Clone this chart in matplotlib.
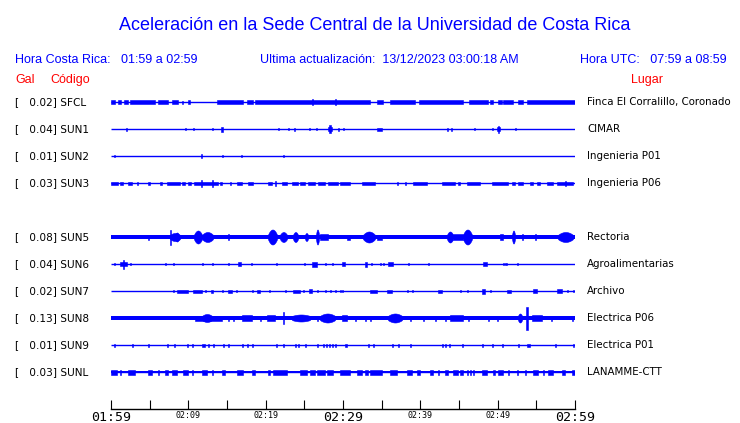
import matplotlib
matplotlib.use("Agg")
import matplotlib.pyplot as plt
import matplotlib.transforms as mtransforms
import numpy as np

# ---------------- data ----------------
start_clock = (1, 59)          # Hora Costa Rica start (hh, mm)
window_min = 60
codes = ['SFCL', 'SUN1', 'SUN2', 'SUN3', 'SUN5', 'SUN6', 'SUN7', 'SUN8', 'SUN9', 'SUNL']
gal = [0.02, 0.04, 0.01, 0.03, 0.08, 0.04, 0.02, 0.13, 0.01, 0.03]
places = ['Finca El Corralillo, Coronado', 'CIMAR', 'Ingenieria P01', 'Ingenieria P06',
          'Rectoria', 'Agroalimentarias', 'Archivo', 'Electrica P06', 'Electrica P01',
          'LANAMME-CTT']
slots = [0, 1, 2, 3, 5, 6, 7, 8, 9, 10]
# continuous background noise half-amplitude (px-like units) per station
base_noise = [0, 0, 0, 0, 2.0, 0, 0, 1.7, 0, 1.1]

# bursts: (t_start_min, t_end_min, half_amp) or spikes: (t_min, half_amp)
sfcl = [(0, 0.52, 2), (0.91, 1.29, 2), (1.68, 2.2, 2), (2.46, 5.69, 2), (6.08, 7.37, 2),
        (7.89, 8.66, 2), (9.18, 9.31, 1.5), (9.96, 10.22, 2), (13.71, 17.07, 2),
        (17.59, 18.36, 2), (18.62, 33.49, 2), (34.4, 35.17, 2), (36.08, 39.31, 2),
        (39.83, 45.52, 2), (46.3, 48.75, 2), (49.0, 49.4, 2), (50.0, 50.56, 2),
        (50.69, 51.99, 2), (52.63, 53.28, 2), (53.79, 60, 2), (25.95, 3), (28.97, 3)]
sun1 = [(1.94, 1.5), (9.57, 1), (10.6, 1), (13.06, 1), (14.22, 14.48, 2.5), (21.6, 1),
        (22.89, 1), (23.6, 23.85, 1.5), (25.6, 1), (26.51, 1), (28.1, 28.6, 2),
        (28.25, 4), (29.35, 1.5), (30.0, 1), (34.4, 35.04, 1.5), (43.45, 1.5),
        (43.97, 1.5), (46.94, 1), (49.27, 1), (49.92, 50.3, 2), (50.05, 3.5), (52.24, 1)]
sun2 = [(0.39, 1), (11.64, 2), (14.35, 1), (16.81, 1), (22.24, 1)]
sun3 = [(0, 0.91, 1.5), (1.16, 1.55, 1.5), (2.2, 2.72, 1.5), (3.36, 3.49, 1.5),
        (4.78, 5.04, 1.5), (6.34, 6.6, 1.5), (7.24, 8.92, 1.5), (9.18, 9.57, 1.5),
        (9.96, 10.35, 1.5), (10.73, 13.84, 1.5), (11.64, 3.5), (13.06, 3.5),
        (14.1, 14.35, 1.5), (15.39, 1.5), (16.29, 16.94, 1.5), (17.72, 18.36, 1.5),
        (20.3, 20.82, 1.5), (21.21, 2.5), (22.11, 22.76, 1.5), (23.41, 24.2, 1.5),
        (24.5, 25.09, 1.5), (25.47, 26.4, 1.5), (26.8, 27.67, 1.5), (28.06, 29.3, 1.5),
        (29.6, 30.91, 1.5), (32.46, 34.14, 1.5), (36.98, 1.5), (38.02, 1.5),
        (39.05, 40.86, 1.5), (42.8, 44.48, 1.5), (44.87, 45.13, 1.5), (46.04, 47.72, 1.5),
        (49.27, 51.34, 1.5), (51.86, 52.24, 1.5), (52.63, 53.28, 1.5), (54.18, 54.57, 1.5),
        (55.09, 55.48, 1.5), (56.38, 57.16, 1.5), (57.67, 59.74, 1.5), (58.71, 2.5)]
sun5 = [(4.78, 2.5), (7.63, 8.92, 4), (8.28, 8.79, 4.5), (7.63, 7.5), (10.73, 11.77, 6.5),
        (11.77, 13.19, 5), (15.13, 3), (20.3, 21.47, 7.5), (21.85, 22.76, 5),
        (23.54, 24.18, 5), (25.09, 25.47, 4), (26.51, 26.9, 7.5), (27.03, 28.06, 3),
        (30.52, 30.91, 2.5), (32.59, 34.14, 5.5), (34.4, 35.04, 2.5), (43.45, 44.23, 5.5),
        (44.23, 45.52, 3), (45.52, 46.68, 7.5), (50.3, 50.69, 3), (51.86, 52.24, 6.5),
        (53.15, 3), (54.83, 3), (57.8, 59.74, 5)]
sun6 = [(0.39, 1), (1.16, 2.07, 2), (1.55, 4.5), (2.46, 1), (6.98, 1), (8.02, 1),
        (11.77, 1), (13.06, 1), (15.13, 1), (16.42, 16.81, 2), (18.1, 1), (21.34, 1),
        (24.96, 1), (25.99, 26.64, 2.5), (27.67, 1), (28.58, 1), (29.87, 30.26, 2),
        (32.9, 33.1, 2.5), (33.62, 1), (34.79, 1), (35.17, 1), (35.82, 36.47, 2),
        (38.41, 1), (40.99, 1), (48.1, 48.62, 2), (50.69, 1), (50.95, 51.21, 1),
        (52.5, 52.63, 1)]
sun7 = [(8.02, 1), (8.53, 9.96, 1.5), (10.6, 11.77, 1.5), (12.16, 1), (12.93, 13.19, 1.5),
        (14.35, 1), (15.13, 15.65, 1.5), (16.16, 1), (18.23, 18.36, 1), (18.88, 19.27, 1.5),
        (20.43, 1), (22.5, 1), (23.54, 24.44, 1.5), (24.83, 1), (25.6, 25.99, 2),
        (26.64, 1), (27.67, 1), (28.32, 1), (28.97, 1), (29.61, 1), (29.87, 1),
        (33.49, 34.4, 1.5), (35.69, 36.34, 1.5), (38.28, 1), (38.92, 1), (42.29, 42.8, 1.5),
        (45.13, 1), (46.04, 1), (47.98, 48.36, 2.5), (49.01, 1), (51.21, 51.73, 1.5),
        (54.57, 55.09, 2), (57.67, 58.32, 2), (58.97, 1), (59.74, 1)]
sun8 = [(10.86, 14.35, 2.5), (11.77, 13.06, 4), (15.13, 2.5), (15.78, 2.5),
        (16.94, 18.23, 3), (19.27, 2.5), (20.17, 21.21, 3), (22.24, 6), (23.41, 25.73, 3.5),
        (26.64, 2.5), (27.03, 28.97, 4.5), (29.87, 30.52, 3), (31.55, 2.5), (32.85, 2.5),
        (33.49, 2.5), (35.82, 37.63, 4.5), (38.67, 2.5), (40.35, 2.5), (41.9, 2.5),
        (43.19, 2.5), (43.84, 45.52, 3), (46.17, 2.5), (48.75, 2.5), (49.92, 2.5),
        (52.63, 53.15, 4.5), (53.66, 53.92, 11.5), (54.44, 55.74, 3), (56.9, 2.5),
        (59.61, 2.5)]
sun9 = [(0.39, 1.5), (2.72, 1.5), (4.78, 1.5), (7.24, 1.5), (8.15, 1.5), (9.83, 1.5),
        (10.47, 1.5), (11.77, 12.16, 1.5), (12.54, 1.5), (13.19, 1.5), (14.48, 1.5),
        (15.13, 1.5), (16.94, 1.5), (17.59, 1.5), (18.23, 1.5), (21.34, 1.5), (22.24, 1.5),
        (23.79, 1.5), (24.18, 1.5), (25.09, 1.5), (26.64, 1.5), (27.41, 1.5), (27.8, 1.5),
        (28.2, 1.5), (28.6, 1.5), (28.97, 1.5), (30.26, 30.52, 1.5), (33.23, 1.5),
        (33.88, 1.5), (36.34, 1.5), (37.11, 1.5), (38.67, 1.5), (42.8, 1.5), (43.19, 1.5),
        (43.71, 1.5), (45.39, 1.5), (47.98, 1.5), (49.27, 1.5), (50.56, 1.5), (52.63, 1.5),
        (53.79, 54.18, 1.5), (57.42, 1.5), (59.74, 1.5)]
sunl = [(0, 0.78, 2.5), (1.16, 1.29, 2.5), (2.2, 3.1, 2.5), (4.78, 5.3, 2.5),
        (6.08, 6.2, 2.5), (6.98, 7.37, 2.5), (7.89, 8.53, 2.5), (9.31, 9.96, 2.5),
        (10.47, 10.6, 2.5), (11.77, 12.41, 2.5), (13.06, 13.19, 2.5), (14.35, 14.74, 2.5),
        (16.29, 17.07, 2.5), (18.23, 18.62, 2.5), (20.3, 20.56, 2.5), (20.95, 22.76, 2.5),
        (24.44, 25.35, 2.5), (25.73, 26.38, 2.5), (26.64, 27.67, 2.5), (27.93, 28.71, 2.5),
        (29.61, 30.91, 2.5), (31.81, 32.46, 2.5), (32.85, 33.23, 2.5), (33.49, 35.04, 2.5),
        (36.08, 36.98, 2.5), (38.28, 38.92, 2.5), (39.57, 39.96, 2.5), (41.25, 41.64, 2.5),
        (42.29, 42.42, 2.5), (43.19, 43.58, 2.5), (44.23, 44.87, 2.5), (45.13, 45.52, 2.5),
        (46.04, 46.17, 2.5), (46.42, 46.55, 2.5), (46.81, 46.94, 2.5), (47.98, 48.62, 2.5),
        (49.4, 49.66, 2.5), (50.05, 50.69, 2.5), (51.34, 51.47, 2.5), (52.5, 52.63, 2.5),
        (53.53, 53.66, 2.5), (54.57, 55.22, 2.5), (55.86, 55.99, 2.5), (56.51, 57.16, 2.5),
        (58.32, 58.71, 2.5), (59.61, 60, 2.5)]
bursts = [sfcl, sun1, sun2, sun3, sun5, sun6, sun7, sun8, sun9, sunl]

title = 'Aceleración en la Sede Central de la Universidad de Costa Rica'
hora_cr = 'Hora Costa Rica:   01:59 a 02:59'
actualizacion = 'Ultima actualización:  13/12/2023 03:00:18 AM'
hora_utc = 'Hora UTC:   07:59 a 08:59'

# ---------------- drawing ----------------
W, H = 740, 423
BLUE = '#0000ff'
RED = '#ff0000'
SPIKE_W = 0.14
SLOT_PX = 27.0
AMP = 1.0 / SLOT_PX

fig = plt.figure(figsize=(W / 100, H / 100), dpi=100)
ax_l, ax_r, ax_b, ax_t = 111, 575, 409, 90
ax = fig.add_axes([ax_l / W, 1 - ax_b / H, (ax_r - ax_l) / W, (ax_b - ax_t) / H])
ax.set_xlim(0, window_min)
y_top = (ax_t - 102) / SLOT_PX
y_bot = (ax_b - 102) / SLOT_PX
ax.set_ylim(y_bot, y_top)

for slot, ev, bn in zip(slots, bursts, base_noise):
    ax.hlines(slot, 0, window_min, color=BLUE, lw=1.0)
    if bn > 0:
        ax.bar(0, 2 * bn * AMP, width=window_min, bottom=slot - bn * AMP, align='edge',
               color=BLUE, linewidth=0)
    for e in ev:
        if len(e) == 2:
            t0, t1, h = e[0], e[0] + SPIKE_W, e[1]
        else:
            t0, t1, h = e
        if h >= 3.5 and (t1 - t0) > 0.3:
            # burst envelope drawn as a rounded spindle (drawing style only)
            tt = np.linspace(t0, t1, 80)
            u = (tt - t0) / (t1 - t0)
            prof = np.sin(np.pi * u) ** 0.8
            floor = max(bn, 2.0)
            env = (floor + (h - floor) * prof) * AMP
            ax.fill_between(tt, slot - env, slot + env, color=BLUE, linewidth=0.4,
                            edgecolor=BLUE)
        else:
            ax.bar(t0, 2 * h * AMP, width=t1 - t0, bottom=slot - h * AMP, align='edge',
                   color=BLUE, edgecolor=BLUE, linewidth=0.4)

# time axis
for s in ['left', 'right', 'top']:
    ax.spines[s].set_visible(False)
ax.spines['bottom'].set_linewidth(1.0)
ax.set_yticks([])
tick_pos = np.arange(0, window_min + 1, 5)
tick_labels = []
for m in tick_pos:
    tot = start_clock[0] * 60 + start_clock[1] + int(m)
    tick_labels.append(f'{tot // 60:02d}:{tot % 60:02d}' if m % 10 == 0 else '')
ax.set_xticks(tick_pos)
ax.set_xticklabels(tick_labels, family='DejaVu Sans Mono')
ax.tick_params(axis='x', direction='in', length=6.5, width=0.8, pad=1.5)
for m, lab in zip(tick_pos, ax.get_xticklabels()):
    lab.set_fontsize(9.5 if m % 30 == 0 else 6)

# texts
trans = mtransforms.blended_transform_factory(fig.transFigure, ax.transData)
for slot, g, c, p in zip(slots, gal, codes, places):
    ax.text(15 / W, slot, f'[   {g:.2f}] {c}', transform=trans, ha='left', va='center',
            fontsize=7.6, family='DejaVu Sans', color='black')
    ax.text(587 / W, slot, p, transform=trans, ha='left', va='center',
            fontsize=7.4, family='DejaVu Sans', color='black')

SANS = ['Liberation Sans', 'DejaVu Sans']
fig.text(374.5 / W, 1 - 30 / H, title, ha='center', va='baseline', fontsize=13,
         family=SANS, color=BLUE)
fig.text(15 / W, 1 - 60 / H, hora_cr, ha='left', va='center', fontsize=9, family=SANS,
         color=BLUE)
fig.text(260 / W, 1 - 60 / H, actualizacion, ha='left', va='center', fontsize=9,
         family=SANS, color=BLUE)
fig.text(580.5 / W, 1 - 60 / H, hora_utc, ha='left', va='center', fontsize=9, family=SANS,
         color=BLUE)
fig.text(15 / W, 1 - 80 / H, 'Gal', ha='left', va='center', fontsize=9, family=SANS,
         color=RED)
fig.text(50 / W, 1 - 80 / H, 'Código', ha='left', va='center', fontsize=9, family=SANS,
         color=RED)
fig.text(631 / W, 1 - 80 / H, 'Lugar', ha='left', va='center', fontsize=9, family=SANS,
         color=RED)

fig.savefig('out.png', dpi=100)
